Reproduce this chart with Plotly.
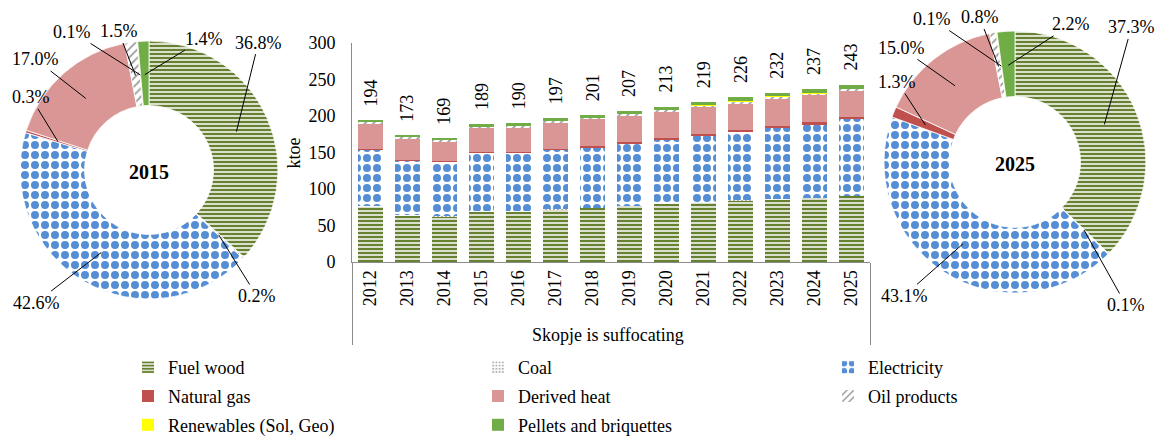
import math
import plotly.graph_objects as go

# ---------------- data ----------------
years = [str(y) for y in range(2012, 2026)]
group_label = "Skopje is suffocating"
fuels = ["Fuel wood", "Coal", "Electricity", "Natural gas", "Derived heat",
         "Oil products", "Renewables (Sol, Geo)", "Pellets and briquettes"]

fuel_wood   = [76, 64, 63, 69.6, 69, 72, 74, 77, 80, 82, 84, 85.8, 88, 90.6]
coal        = [0.5, 0.4, 0.4, 0.38, 0.4, 0.4, 0.4, 0.4, 0.4, 0.4, 0.3, 0.3, 0.3, 0.24]
electricity = [78, 75, 74, 80.5, 81, 82, 83, 85.5, 88, 91, 95, 98, 100.5, 104.7]
natural_gas = [0.5, 0.3, 0.3, 0.57, 0.6, 1, 1, 1, 1.2, 1.3, 1.5, 2, 2.5, 3.2]
derived_heat = [34, 30, 27, 32.1, 32.5, 35, 37, 36, 36, 37, 37, 38.5, 38, 36.5]
oil_products = [3, 2, 2.5, 2.8, 3, 3, 2.8, 3, 3, 2.8, 2.5, 2.2, 2, 1.9]
renewables  = [0.1, 0.1, 0.1, 0.19, 0.2, 0.2, 0.2, 0.2, 0.2, 0.2, 0.2, 0.2, 0.2, 0.24]
pellets     = [2, 1.2, 1.7, 2.6, 3.3, 3.4, 2.6, 3.9, 4.2, 4.3, 5.5, 5, 5.5, 5.3]
totals      = [194, 173, 169, 189, 190, 197, 201, 207, 213, 219, 226, 232, 237, 243]

share_2015 = [36.8, 0.2, 42.6, 0.3, 17.0, 1.5, 0.1, 1.4]
share_2025 = [37.3, 0.1, 43.1, 1.3, 15.0, 0.8, 0.1, 2.2]
y_ticks = [0, 50, 100, 150, 200, 250, 300]
y_title = "ktoe"

# ---------------- styles ----------------
W, H = 1158, 436
FONT = "Liberation Serif"
FS = 18
styles = [
    dict(shape="-", fg="#66812F", bg="#FFFFFF", size=4, sol=0.62),
    dict(shape=".", fg="#B0B0B0", bg="#FFFFFF", size=4, sol=0.35),
    dict(shape=".", fg="#558ED5", bg="#FFFFFF", size=10, sol=0.5),
    dict(shape="", fg="#C0504D", bg="#C0504D", size=8, sol=0.3),
    dict(shape="", fg="#D99694", bg="#D99694", size=8, sol=0.3),
    dict(shape="/", fg="#9A9A9A", bg="#FFFFFF", size=6, sol=0.3),
    dict(shape="", fg="#FFFF00", bg="#FFFF00", size=8, sol=0.3),
    dict(shape="", fg="#70AD47", bg="#70AD47", size=8, sol=0.3),
]
series = [fuel_wood, coal, electricity, natural_gas, derived_heat,
          oil_products, renewables, pellets]
# legend columns as in the reference (row-wise reading order)
legend_of = ["legend", "legend2", "legend3", "legend", "legend2", "legend3",
             "legend", "legend2"]

fig = go.Figure()
xcat = [[group_label] * len(years), years]
for name, vals, st, lg in zip(fuels, series, styles, legend_of):
    fig.add_trace(go.Bar(
        x=xcat, y=vals, name=name, legend=lg, legendgroup=name,
        marker=dict(color=st["bg"], line=dict(width=0),
                    pattern=dict(shape=st["shape"], fgcolor=st["fg"],
                                 bgcolor=st["bg"], size=st["size"],
                                 solidity=st["sol"], fillmode="replace")),
        hoverinfo="skip",
    ))

# ---------------- donuts ----------------
pies = [
    dict(shares=share_2015, year="2015", cx=149, cy=170, r=129,
         offs=[(22, -89), (38, 61), (-65, 50), (-27, -44), (-50, -39),
               (-17, -44), (-68, -43), (59, -36)]),
    dict(shares=share_2025, year="2025", cx=1015, cy=162, r=131,
         offs=[(27, -97), (42, 75), (-59, 52), (-28, -43), (-54, -38),
               (-19, -49), (-69, -47), (63, -41)]),
]
annotations = []
for p in pies:
    cx, cy, r = p["cx"], p["cy"], p["r"]
    fig.add_trace(go.Pie(
        values=p["shares"], labels=fuels, sort=False, direction="clockwise",
        rotation=0, hole=0.5, textinfo="none", showlegend=False,
        hoverinfo="skip",
        domain=dict(x=[(cx - r) / W, (cx + r) / W],
                    y=[(H - cy - r) / H, (H - cy + r) / H]),
        marker=dict(colors=[s["bg"] for s in styles],
                    line=dict(color="white", width=0.8),
                    pattern=dict(shape=[s["shape"] for s in styles],
                                 fgcolor=[s["fg"] for s in styles],
                                 bgcolor=[s["bg"] for s in styles],
                                 size=[s["size"] for s in styles],
                                 solidity=[s["sol"] for s in styles],
                                 fillmode="replace")),
        title=dict(text="<b>" + p["year"] + "</b>", position="middle center",
                   font=dict(family=FONT, size=20, color="black")),
    ))
    total = sum(p["shares"])
    cum = 0.0
    rm = 0.74 * r
    for v, (ax, ay) in zip(p["shares"], p["offs"]):
        mid = (cum + v / 2) / total * 2 * math.pi
        cum += v
        px = cx + rm * math.sin(mid)
        py = cy - rm * math.cos(mid)
        annotations.append(dict(
            x=px / W, y=(H - py) / H, xref="paper", yref="paper",
            text=f"{v:.1f}%", showarrow=True, arrowhead=0, arrowwidth=1,
            arrowcolor="black", ax=ax, ay=ay, standoff=0,
            font=dict(family=FONT, size=FS, color="black"),
        ))

# ---------------- total labels ----------------
for i, t in enumerate(totals):
    annotations.append(dict(
        x=i, y=t, xref="x", yref="y", text=str(t), showarrow=False,
        textangle=-90, yanchor="bottom", yshift=12,
        font=dict(family=FONT, size=FS, color="black"),
    ))

# y-axis title
annotations.append(dict(
    x=293 / W, y=0.5, xref="paper", yref="y domain", text=y_title,
    showarrow=False, textangle=-90, xanchor="center", yanchor="middle",
    font=dict(family=FONT, size=FS, color="black"),
))

def leg(xpx):
    return dict(orientation="v", xref="container", yref="container",
                x=xpx / W, xanchor="left", y=(H - 349) / H, yanchor="top",
                traceorder="grouped", tracegroupgap=2.4,
                font=dict(family=FONT, size=FS, color="black"),
                bgcolor="rgba(0,0,0,0)", itemwidth=30)

fig.update_layout(
    width=W, height=H, margin=dict(l=0, r=0, t=0, b=0, autoexpand=False),
    paper_bgcolor="white", plot_bgcolor="white",
    barmode="stack", bargap=0.32,
    font=dict(family=FONT, size=FS, color="black"),
    xaxis=dict(domain=[352 / W, 870 / W], type="multicategory",
               automargin=False,
               tickangle=-90, showline=True, linecolor="#8C8C8C",
               linewidth=1, ticks="", showdividers=True,
               dividercolor="#8C8C8C", dividerwidth=1,
               tickfont=dict(family=FONT, size=FS, color="black")),
    yaxis=dict(domain=[(H - 262) / H, (H - 43) / H], range=[0, 300],
               automargin=False,
               tickvals=y_ticks, showgrid=False, zeroline=False,
               showline=True, linecolor="#8C8C8C", linewidth=1, ticks="",
               ticklabelstandoff=12,
               tickfont=dict(family=FONT, size=FS, color="black")),
    legend=leg(128),
    legend2=leg(478),
    legend3=leg(828),
    annotations=annotations,
    showlegend=True,
)

fig.write_html("out.html", config={"displayModeBar": False},
               post_script="document.body.style.margin='0px';")
